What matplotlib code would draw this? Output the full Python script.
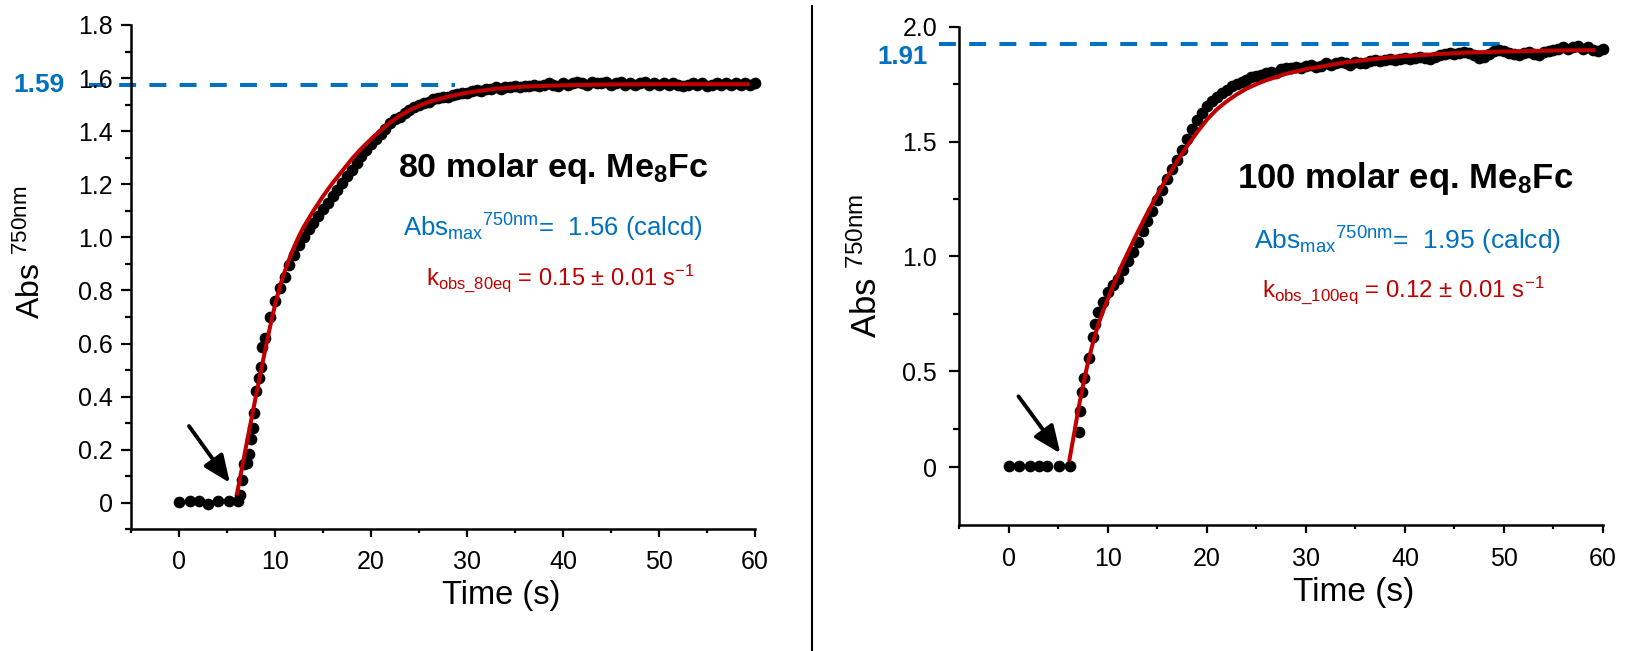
import numpy as np
import matplotlib.pyplot as plt
from matplotlib.lines import Line2D
from matplotlib.ticker import MultipleLocator, FixedLocator, FuncFormatter

plt.rcParams['font.family'] = 'Liberation Sans'
plt.rcParams['mathtext.fontset'] = 'custom'
plt.rcParams['mathtext.rm'] = 'Liberation Sans'
plt.rcParams['mathtext.it'] = 'Liberation Sans:italic'
plt.rcParams['mathtext.bf'] = 'Liberation Sans:bold'

BLUE = '#0070C0'
RED = '#C00000'

# ---- 80 molar eq. data ----
t_early_80 = [0, 1.1, 2.1, 3.0, 4.1, 5.2, 6.1, 6.4, 6.55, 6.75, 7.1, 7.25, 7.5, 7.7,
              7.85, 8.05, 8.3, 8.55, 8.65]
a_early_80 = [0.002, 0.007, 0.006, -0.003, 0.008, 0.008, 0.008, 0.03, 0.085, 0.145, 0.15,
              0.185, 0.24, 0.28, 0.34, 0.42, 0.47, 0.51, 0.585]
# sampled every 0.5 s from 9 s to 60 s
a_dense_80 = [
    0.62, 0.70, 0.76, 0.81, 0.85, 0.895, 0.935, 0.97, 1.00, 1.03,
    1.055, 1.08, 1.105, 1.13, 1.155, 1.18, 1.205, 1.23, 1.255, 1.28,
    1.305, 1.33, 1.35, 1.37, 1.39, 1.41, 1.43, 1.445, 1.455, 1.47,
    1.48, 1.49, 1.50, 1.505, 1.51, 1.52, 1.525, 1.53, 1.53, 1.535,
    1.54, 1.545, 1.545, 1.55, 1.555, 1.55, 1.56, 1.56, 1.565, 1.56,
    1.565, 1.565, 1.57, 1.565, 1.57, 1.57, 1.575, 1.57, 1.575, 1.58,
    1.575, 1.57, 1.58, 1.575, 1.58, 1.585, 1.58, 1.575, 1.585, 1.58,
    1.58, 1.585, 1.575, 1.58, 1.585, 1.575, 1.58, 1.575, 1.58, 1.585,
    1.575, 1.58, 1.575, 1.58, 1.575, 1.58, 1.575, 1.57, 1.575, 1.58,
    1.575, 1.58, 1.57, 1.575, 1.58, 1.575, 1.58, 1.575, 1.58, 1.575,
    1.58, 1.575, 1.58]
t_fit_80 = [6.05, 7.0, 8.0, 8.5, 9.0, 9.5, 10.0, 10.5, 11.0, 11.5, 12.0, 12.5, 13.0,
            13.5, 14.0, 15.0, 16.0, 17.0, 18.0, 19.0, 20.0, 21.0, 22.0, 23.0, 24.0, 25.0,
            26.0, 28.0, 30.0, 33.0, 36.0, 40.0, 45.0, 50.0, 59.2]
a_fit_80 = [0.035, 0.215, 0.40, 0.49, 0.58, 0.665, 0.745, 0.815, 0.87, 0.92, 0.965, 1.005,
            1.04, 1.07, 1.10, 1.155, 1.205, 1.25, 1.295, 1.335, 1.37, 1.403, 1.433, 1.458,
            1.479, 1.496, 1.51, 1.53, 1.545, 1.56, 1.568, 1.573, 1.576, 1.577, 1.577]
level_80 = 1.575

# ---- 100 molar eq. data ----
t_early_100 = [0, 1.0, 2.1, 3.0, 3.9, 5.05, 6.2, 7.07, 7.2, 7.4, 7.64, 8.08, 8.48, 8.7]
a_early_100 = [0.01, 0.01, 0.01, 0.01, 0.01, 0.01, 0.01, 0.226, 0.328, 0.408, 0.47,
               0.557, 0.65, 0.706]
a_dense_100 = [
    0.76, 0.80, 0.845, 0.875, 0.90, 0.94, 0.98, 1.02, 1.065, 1.11,
    1.155, 1.20, 1.245, 1.29, 1.335, 1.38, 1.42, 1.465, 1.51, 1.555,
    1.595, 1.625, 1.655, 1.675, 1.695, 1.71, 1.725, 1.74, 1.75, 1.76,
    1.77, 1.78, 1.785, 1.79, 1.80, 1.805, 1.80, 1.815, 1.82, 1.82,
    1.825, 1.82, 1.83, 1.835, 1.825, 1.83, 1.84, 1.835, 1.84, 1.845,
    1.84, 1.835, 1.845, 1.84, 1.84, 1.85, 1.855, 1.85, 1.855, 1.86,
    1.855, 1.86, 1.865, 1.86, 1.865, 1.87, 1.865, 1.86, 1.87, 1.875,
    1.88, 1.885, 1.88, 1.885, 1.89, 1.885, 1.875, 1.865, 1.87, 1.88,
    1.895, 1.90, 1.895, 1.885, 1.88, 1.875, 1.885, 1.89, 1.88, 1.875,
    1.89, 1.895, 1.90, 1.905, 1.91, 1.905, 1.91, 1.915, 1.905, 1.91,
    1.90, 1.895, 1.905]
t_fit_100 = [6.13, 6.68, 7.0, 7.5, 8.0, 8.5, 9.0, 9.5, 10.0, 10.5, 11.0, 11.5, 12.0, 13.0,
             14.0, 15.0, 16.0, 17.0, 18.0, 19.0, 20.0, 21.0, 22.0, 23.0, 24.0, 25.0, 26.0,
             28.0, 30.0, 32.0, 34.0, 36.0, 38.0, 40.0, 43.0, 46.0, 50.0, 55.0, 59.0]
a_fit_100 = [0.05, 0.25, 0.33, 0.44, 0.54, 0.625, 0.70, 0.76, 0.815, 0.87, 0.92, 0.97,
             1.015, 1.105, 1.19, 1.27, 1.345, 1.415, 1.48, 1.54, 1.595, 1.64, 1.675,
             1.705, 1.73, 1.75, 1.767, 1.795, 1.815, 1.83, 1.845, 1.855, 1.865, 1.872,
             1.88, 1.887, 1.892, 1.896, 1.898]
level_100 = 1.925

t_dense = np.arange(9.0, 60.01, 0.5)

W, H = 1626, 651
fig = plt.figure(figsize=(W / 100, H / 100), dpi=100)


def fx(px):
    return px / W


def fy(py):
    return 1 - py / H


ax1 = fig.add_axes([fx(131), fy(529.3), fx(755) - fx(131), fy(25) - fy(529.3)])
ax2 = fig.add_axes([fx(959.3), fy(525), fx(1603) - fx(959.3), fy(26.7) - fy(525)])


def style(ax):
    for s in ['top', 'right']:
        ax.spines[s].set_visible(False)
    for s in ['left', 'bottom']:
        ax.spines[s].set_linewidth(1.8)
    ax.tick_params(which='both', width=1.6, labelsize=18, direction='out')
    ax.tick_params(axis='y', which='major', length=7, pad=6)
    ax.tick_params(axis='y', which='minor', length=4)
    ax.tick_params(axis='x', which='major', length=6, pad=9)
    ax.tick_params(axis='x', which='minor', length=3)
    ax.set_xlim(-5, 60)
    ax.xaxis.set_major_locator(MultipleLocator(10))
    ax.xaxis.set_minor_locator(MultipleLocator(5))


# lower part of the right y axis (below 0.25) is drawn compressed in the original
SQ = 0.668


def fwd(v):
    v = np.asarray(v, dtype=float)
    return np.where(v >= 0.25, v, 0.25 + (v - 0.25) * SQ)


def inv(u):
    u = np.asarray(u, dtype=float)
    return np.where(u >= 0.25, u, 0.25 + (u - 0.25) / SQ)


def draw(ax, t_early, a_early, a_dense, t_fit, a_fit):
    t_all = np.concatenate([t_early, t_dense])
    a_all = np.concatenate([a_early, a_dense])
    ax.plot(t_all, a_all, 'o', color='k', ms=7.4, clip_on=False, zorder=2)
    ax.plot(t_fit, a_fit, color=RED, lw=2.9, zorder=3, solid_joinstyle='round')


arrow_kw = dict(arrowstyle='-|>,head_length=0.75,head_width=0.32',
                color='k', lw=2.8, mutation_scale=22, shrinkA=0, shrinkB=0)
fmt = FuncFormatter(lambda v, p: '0' if abs(v) < 1e-9 else f'{v:.1f}')

# ---- left panel ----
style(ax1)
draw(ax1, t_early_80, a_early_80, a_dense_80, t_fit_80, a_fit_80)
ax1.set_ylim(-0.1, 1.8)
ax1.yaxis.set_major_locator(FixedLocator(np.round(np.arange(0, 1.81, 0.2), 1)))
ax1.yaxis.set_minor_locator(FixedLocator(np.round(np.arange(-0.1, 1.8, 0.2), 1)))
ax1.yaxis.set_major_formatter(fmt)
ax1.plot([-9.36, 28.8], [level_80, level_80], color=BLUE, lw=2.9, dashes=(4.2, 3.3),
         clip_on=False, zorder=1)
ax1.annotate('', xy=(5.3, 0.075), xytext=(1.04, 0.289), arrowprops=arrow_kw)
ax1.set_ylabel(r'Abs $^{\mathregular{750nm}}$', fontsize=23)
ax1.yaxis.set_label_coords(-0.135, 0.55)
ax1.set_xlabel('Time (s)', fontsize=23.5)
ax1.xaxis.set_label_coords(0.593, -0.10)

# ---- right panel ----
style(ax2)
ax2.set_yscale('function', functions=(fwd, inv))
draw(ax2, t_early_100, a_early_100, a_dense_100, t_fit_100, a_fit_100)
ax2.set_ylim(-0.377, 2.0)
ax2.yaxis.set_major_locator(FixedLocator([0, 0.5, 1.0, 1.5, 2.0]))
ax2.yaxis.set_minor_locator(FixedLocator([0.25, 0.75, 1.25, 1.75]))
ax2.yaxis.set_major_formatter(fmt)
ax2.tick_params(axis='y', which='major', pad=9)
ax2.tick_params(axis='x', which='major', pad=10)
ax2.plot([-7.0, 49.9], [level_100, level_100], color=BLUE, lw=2.9, dashes=(4.2, 3.3),
         clip_on=False, zorder=1)
ax2.annotate('', xy=(5.2, 0.09), xytext=(0.98, 0.391), arrowprops=arrow_kw)
ax2.set_ylabel(r'Abs $^{\mathregular{750nm}}$', fontsize=25)
ax2.yaxis.set_label_coords(-0.117, 0.52)
ax2.set_xlabel('Time (s)', fontsize=24)
ax2.xaxis.set_label_coords(0.612, -0.104)

# ---- annotations ----
fig.text(fx(65), fy(85), '1.59', color=BLUE, fontsize=19, fontweight='bold',
         ha='right', va='center')
fig.text(fx(928), fy(57), '1.91', color=BLUE, fontsize=18.5, fontweight='bold',
         ha='right', va='center')

fig.text(fx(553), fy(176.7), r'80 molar eq. Me$_{\mathbf{8}}$Fc', fontsize=24.5,
         fontweight='bold', ha='center', va='baseline')
fig.text(fx(553), fy(236.7), r'Abs$_{\mathregular{max}}$$^{\mathregular{750nm}}$=  1.56 (calcd)',
         color=BLUE, fontsize=18.5, ha='center', va='baseline')
fig.text(fx(560), fy(285), r'k$_{\mathregular{obs\_80eq}}$ = 0.15 ± 0.01 s$^{\mathregular{-1}}$',
         color=RED, fontsize=17, ha='center', va='baseline')

fig.text(fx(1405), fy(188), r'100 molar eq. Me$_{\mathbf{8}}$Fc', fontsize=25,
         fontweight='bold', ha='center', va='baseline')
fig.text(fx(1407), fy(250), r'Abs$_{\mathregular{max}}$$^{\mathregular{750nm}}$=  1.95 (calcd)',
         color=BLUE, fontsize=19, ha='center', va='baseline')
fig.text(fx(1403), fy(296.7), r'k$_{\mathregular{obs\_100eq}}$ = 0.12 ± 0.01 s$^{\mathregular{-1}}$',
         color=RED, fontsize=17.3, ha='center', va='baseline')

# divider between the two panels
fig.add_artist(Line2D([fx(812), fx(812)], [0, fy(6)], color='k', lw=1.5))

fig.savefig('out.png', dpi=100)
